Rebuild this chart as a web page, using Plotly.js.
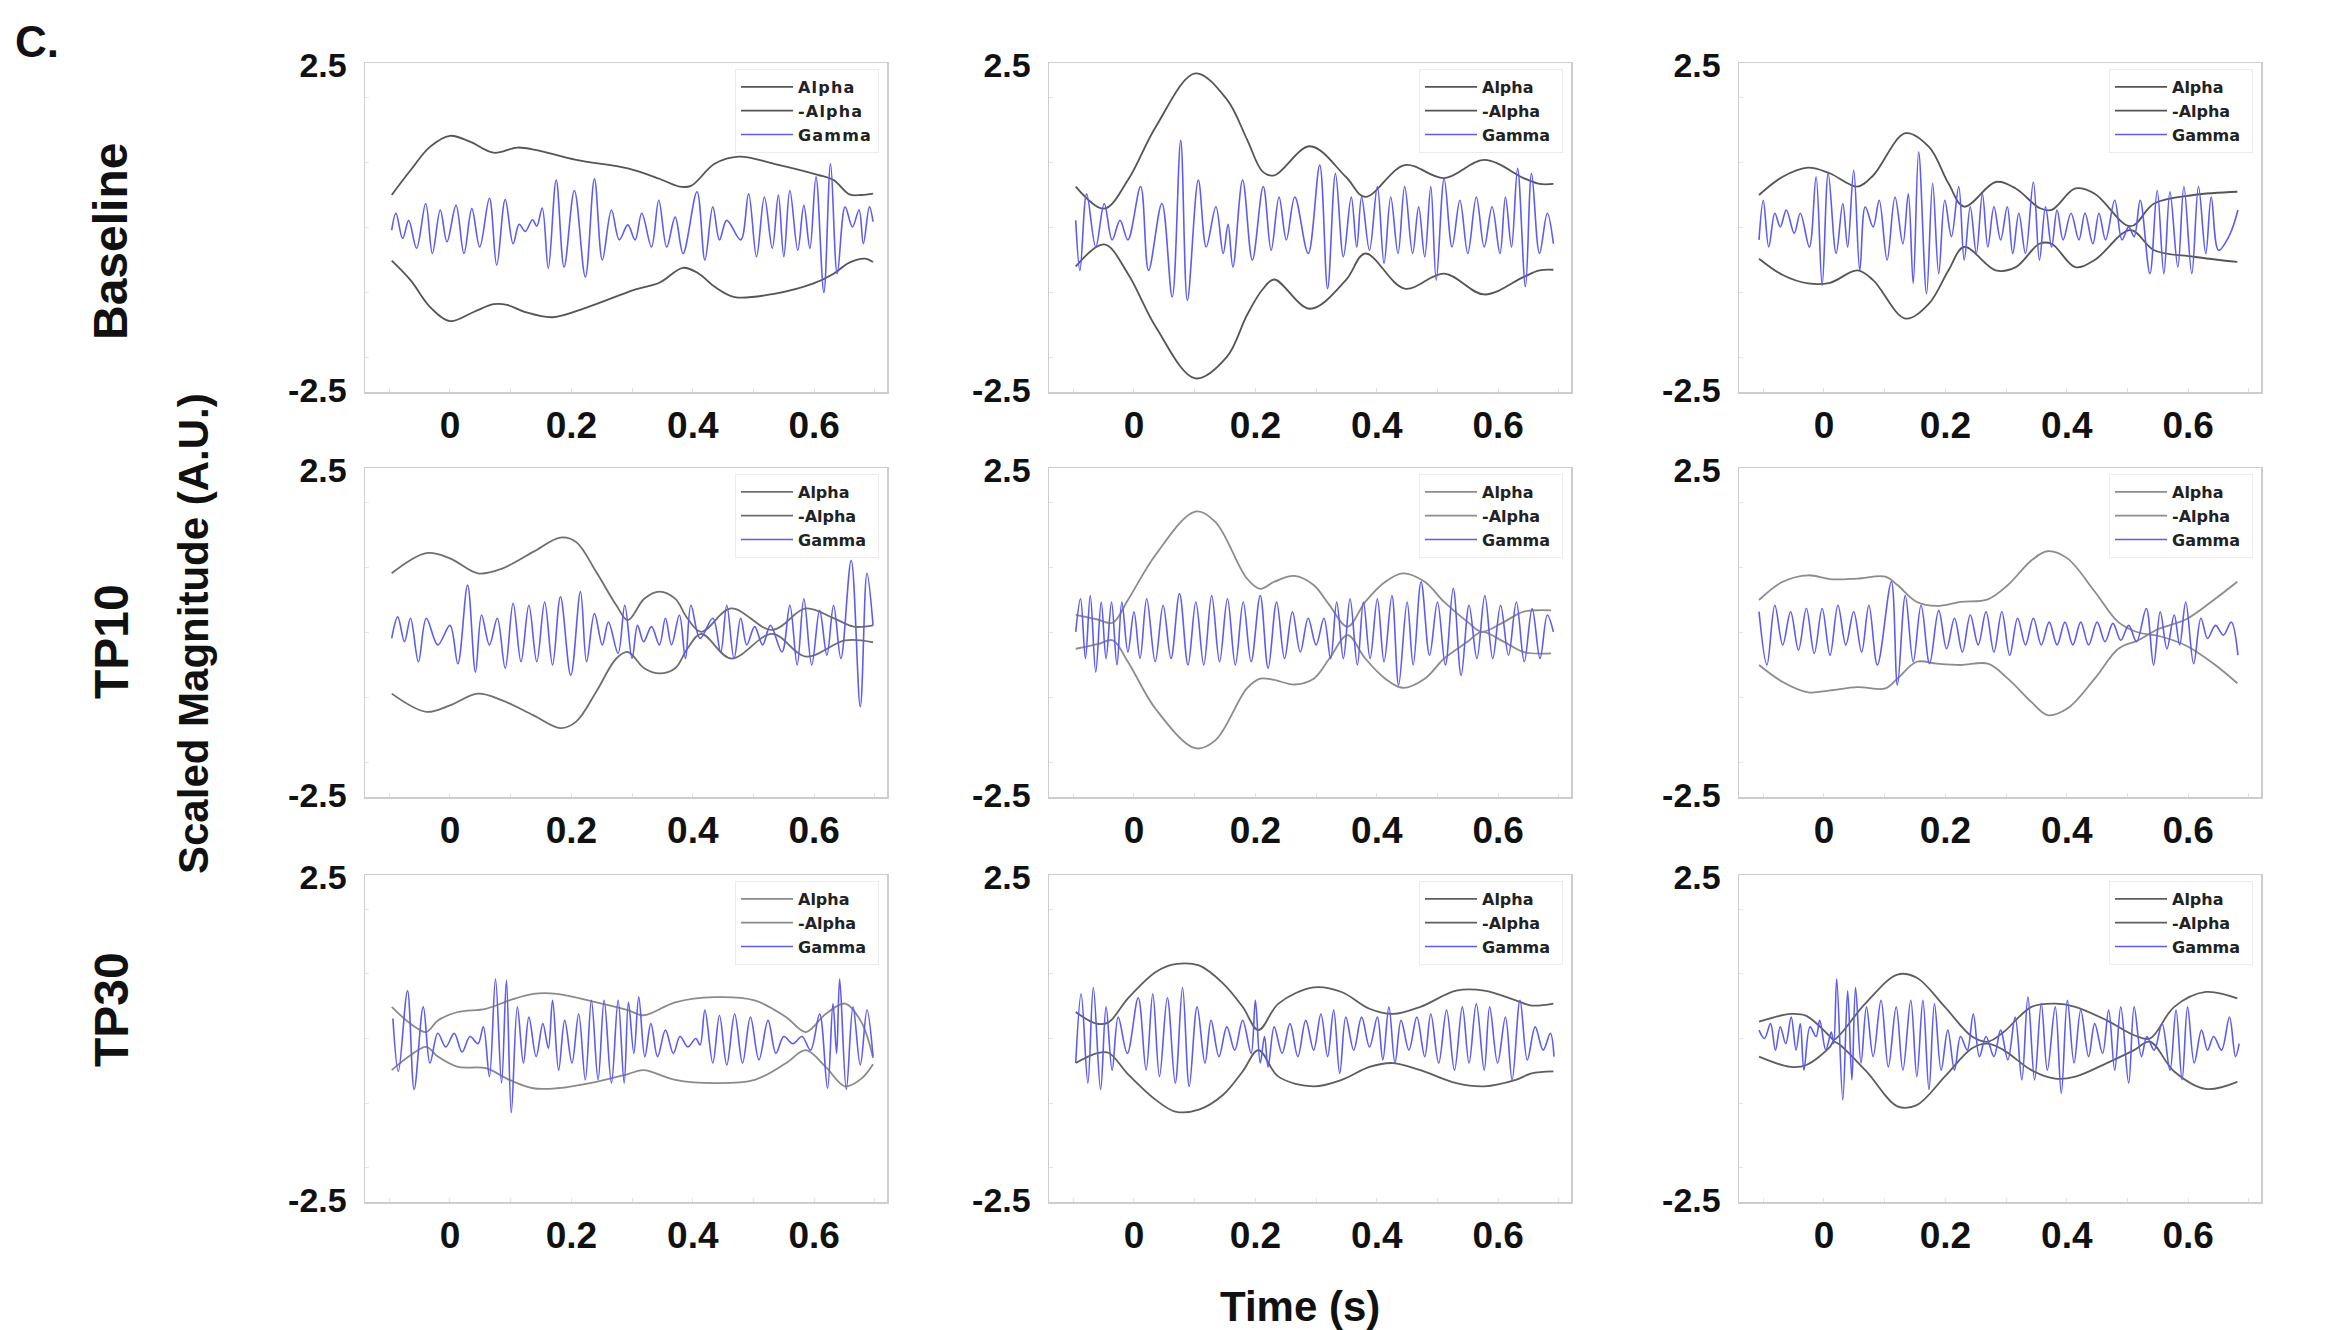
<!DOCTYPE html>
<html>
<head>
<meta charset="utf-8">
<script src="https://cdn.plot.ly/plotly-3.0.1.min.js"></script>
<style>
html,body{margin:0;padding:0;background:#fff;}
#chart{width:2337px;height:1330px;}
.legendtext{letter-spacing:1.2px;}
</style>
</head>
<body>
<div id="chart"></div>
<script>
// ---------------- DATA ----------------
const rowLabels = ['Baseline', 'TP10', 'TP30'];
const xTickVals = [0, 0.2, 0.4, 0.6];
const xTickText = ['0', '0.2', '0.4', '0.6'];
const yTickVals = [-2.5, 2.5];
const yTickText = ['-2.5', '2.5'];
const seriesNames = ['Alpha', '-Alpha', 'Gamma'];

// Panel 1 : Baseline, column 1
const alphaT_1 = [-0.096,-0.065,-0.033,0,0.033,0.072,0.111,0.143,0.208,0.293,0.345,0.378,0.397,0.436,0.476,0.534,0.606,0.632,0.658,0.678,0.697];
const alphaV_1 = [0.50,0.88,1.24,1.41,1.32,1.15,1.23,1.19,1.04,0.91,0.75,0.63,0.64,0.98,1.09,0.98,0.81,0.73,0.51,0.50,0.52];
const negAlphaT_1 = [-0.096,-0.065,-0.033,0,0.039,0.072,0.094,0.124,0.169,0.228,0.306,0.345,0.384,0.410,0.436,0.469,0.534,0.599,0.632,0.658,0.684,0.697];
const negAlphaV_1 = [-0.51,-0.81,-1.22,-1.44,-1.30,-1.18,-1.19,-1.30,-1.38,-1.22,-0.95,-0.85,-0.62,-0.71,-0.91,-1.07,-1.02,-0.86,-0.71,-0.54,-0.48,-0.53];
const gammaT_1 = [-0.096,-0.089,-0.078,-0.068,-0.055,-0.040,-0.029,-0.016,-0.005,0.010,0.023,0.036,0.049,0.065,0.077,0.091,0.104,0.114,0.124,0.136,0.143,0.152,0.162,0.175,0.188,0.205,0.223,0.238,0.251,0.266,0.279,0.293,0.305,0.316,0.332,0.344,0.357,0.371,0.384,0.407,0.420,0.433,0.444,0.456,0.479,0.492,0.505,0.518,0.531,0.541,0.550,0.560,0.573,0.583,0.593,0.603,0.616,0.627,0.638,0.651,0.663,0.674,0.681,0.691,0.697];
const gammaV_1 = [-0.04,0.22,-0.17,0.11,-0.32,0.37,-0.40,0.27,-0.22,0.34,-0.40,0.29,-0.30,0.45,-0.58,0.43,-0.25,0.05,-0.06,0.12,0.02,0.30,-0.63,0.73,-0.61,0.57,-0.76,0.75,-0.50,0.27,-0.19,0.04,-0.19,0.22,-0.30,0.42,-0.30,0.16,-0.40,0.55,-0.50,0.32,-0.19,0.11,-0.19,0.52,-0.45,0.47,-0.32,0.50,-0.45,0.57,-0.35,0.34,-0.32,0.78,-1.00,0.98,-0.71,0.32,0.01,0.27,-0.25,0.32,0.09];

// Panel 2 : Baseline, column 2
const alphaT_2 = [-0.096,-0.049,-0.010,0.036,0.101,0.153,0.186,0.212,0.231,0.290,0.349,0.381,0.446,0.511,0.577,0.642,0.668,0.691];
const alphaV_2 = [0.63,0.29,0.73,1.55,2.37,1.97,1.36,0.86,0.80,1.25,0.78,0.47,0.96,0.76,1.04,0.76,0.67,0.67];
const negAlphaT_2 = alphaT_2;
const negAlphaV_2 = [-0.60,-0.26,-0.71,-1.53,-2.32,-1.99,-1.35,-0.95,-0.80,-1.25,-0.81,-0.40,-0.94,-0.71,-1.03,-0.76,-0.66,-0.65];
const gammaT_2 = [-0.096,-0.089,-0.078,-0.063,-0.049,-0.036,-0.023,-0.010,0.011,0.024,0.046,0.063,0.077,0.088,0.106,0.119,0.135,0.147,0.155,0.163,0.179,0.195,0.213,0.226,0.239,0.251,0.265,0.287,0.306,0.319,0.332,0.345,0.358,0.367,0.375,0.388,0.401,0.412,0.423,0.435,0.446,0.459,0.469,0.479,0.489,0.498,0.511,0.524,0.537,0.550,0.564,0.577,0.590,0.603,0.612,0.622,0.632,0.645,0.655,0.668,0.681,0.691];
const gammaV_2 = [0.11,-0.66,0.52,-0.30,0.37,-0.19,0.11,-0.19,0.63,-0.66,0.37,-1.07,1.34,-1.12,0.73,-0.30,0.32,-0.40,0.05,-0.61,0.73,-0.50,0.63,-0.35,0.47,-0.19,0.47,-0.40,0.96,-0.94,0.83,-0.45,0.47,-0.30,0.47,-0.35,0.63,-0.55,0.47,-0.40,0.63,-0.40,0.32,-0.45,0.63,-0.81,0.75,-0.30,0.42,-0.40,0.47,-0.30,0.32,-0.40,0.47,-0.30,0.91,-0.91,0.83,-0.40,0.22,-0.25];

// Panel 3 : Baseline, column 3
const alphaT_3 = [-0.107,-0.068,-0.026,0.010,0.055,0.081,0.134,0.173,0.205,0.231,0.283,0.316,0.355,0.375,0.414,0.446,0.505,0.544,0.609,0.681];
const alphaV_3 = [0.50,0.78,0.92,0.83,0.63,0.80,1.45,1.24,0.68,0.32,0.70,0.60,0.30,0.27,0.60,0.52,0.02,0.37,0.50,0.55];
const negAlphaT_3 = alphaT_3;
const negAlphaV_3 = [-0.48,-0.73,-0.86,-0.85,-0.66,-0.81,-1.40,-1.17,-0.66,-0.30,-0.66,-0.61,-0.25,-0.25,-0.61,-0.50,-0.04,-0.35,-0.45,-0.53];
const gammaT_3 = [-0.107,-0.100,-0.091,-0.081,-0.072,-0.062,-0.049,-0.039,-0.024,-0.013,-0.003,0.007,0.020,0.031,0.039,0.049,0.059,0.068,0.081,0.091,0.104,0.117,0.130,0.139,0.147,0.156,0.169,0.179,0.189,0.199,0.210,0.222,0.231,0.241,0.251,0.261,0.270,0.280,0.291,0.302,0.311,0.321,0.332,0.345,0.355,0.365,0.375,0.384,0.394,0.407,0.420,0.430,0.443,0.453,0.464,0.479,0.491,0.502,0.511,0.521,0.537,0.549,0.560,0.570,0.583,0.593,0.606,0.617,0.629,0.638,0.650,0.668,0.682];
const gammaV_3 = [-0.19,0.42,-0.30,0.22,0.01,0.27,-0.09,0.22,-0.30,0.78,-0.89,0.83,-0.40,0.37,-0.30,0.88,-0.66,0.32,0.01,0.42,-0.50,0.47,-0.25,0.52,-0.86,1.16,-1.02,0.68,-0.71,0.42,-0.14,0.63,-0.50,0.32,-0.40,0.52,-0.30,0.32,-0.19,0.32,-0.40,0.22,-0.40,0.70,-0.50,0.32,-0.30,0.27,-0.19,0.22,-0.19,0.22,-0.25,0.22,-0.19,0.42,-0.19,0.01,-0.14,0.42,-0.71,0.57,-0.71,0.55,-0.61,0.63,-0.71,0.63,-0.40,0.47,-0.35,-0.12,0.27];

// Panel 4 : TP10, column 1
const alphaT_4 = [-0.096,-0.039,0,0.046,0.085,0.137,0.182,0.208,0.241,0.274,0.293,0.320,0.345,0.371,0.391,0.414,0.463,0.531,0.586,0.632,0.665,0.697];
const alphaV_4 = [0.91,1.22,1.14,0.91,0.98,1.24,1.46,1.39,0.93,0.42,0.19,0.52,0.63,0.52,0.22,0.01,0.37,0.04,0.37,0.22,0.09,0.11];
const negAlphaT_4 = [-0.096,-0.039,0,0.046,0.085,0.137,0.182,0.208,0.241,0.274,0.293,0.320,0.345,0.371,0.391,0.414,0.463,0.531,0.586,0.651,0.697];
const negAlphaV_4 = [-0.94,-1.22,-1.12,-0.94,-1.04,-1.27,-1.47,-1.37,-0.91,-0.40,-0.30,-0.55,-0.63,-0.55,-0.25,-0.02,-0.40,-0.02,-0.37,-0.12,-0.15];
const gammaT_4 = [-0.096,-0.086,-0.075,-0.065,-0.052,-0.039,-0.020,0.000,0.013,0.029,0.042,0.052,0.065,0.078,0.091,0.104,0.117,0.130,0.143,0.156,0.169,0.182,0.199,0.215,0.225,0.238,0.251,0.261,0.277,0.288,0.300,0.309,0.319,0.332,0.345,0.355,0.365,0.378,0.388,0.397,0.412,0.433,0.446,0.456,0.468,0.479,0.489,0.502,0.515,0.528,0.547,0.560,0.572,0.583,0.596,0.609,0.621,0.632,0.644,0.661,0.676,0.687,0.697];
const gammaV_4 = [-0.09,0.24,-0.14,0.22,-0.45,0.22,-0.19,0.11,-0.48,0.73,-0.61,0.27,-0.19,0.22,-0.55,0.45,-0.45,0.42,-0.45,0.47,-0.50,0.55,-0.66,0.63,-0.45,0.29,-0.19,0.16,-0.32,0.42,-0.40,0.11,-0.14,0.09,-0.19,0.22,-0.19,0.27,-0.40,0.42,-0.09,0.22,-0.30,0.42,-0.40,0.22,-0.19,0.09,-0.19,0.11,-0.30,0.42,-0.50,0.52,-0.50,0.34,-0.35,0.42,-0.40,1.11,-1.14,0.91,0.11];

// Panel 5 : TP10, column 2
const alphaT_5 = [-0.096,-0.060,-0.035,-0.010,0.036,0.101,0.134,0.186,0.208,0.231,0.264,0.296,0.322,0.352,0.381,0.414,0.443,0.479,0.511,0.550,0.573,0.609,0.642,0.687];
const alphaV_5 = [0.27,0.20,0.15,0.50,1.20,1.86,1.70,0.83,0.67,0.78,0.87,0.73,0.42,0.09,0.47,0.78,0.91,0.78,0.47,0.16,0.01,0.16,0.32,0.34];
const negAlphaT_5 = alphaT_5;
const negAlphaV_5 = [-0.25,-0.18,-0.12,-0.45,-1.18,-1.78,-1.66,-0.86,-0.71,-0.73,-0.80,-0.71,-0.40,-0.04,-0.40,-0.71,-0.85,-0.71,-0.40,-0.14,0.01,-0.14,-0.30,-0.32];
const gammaT_5 = [-0.096,-0.088,-0.080,-0.072,-0.063,-0.054,-0.046,-0.037,-0.028,-0.020,-0.010,0.000,0.010,0.021,0.035,0.048,0.061,0.075,0.089,0.102,0.115,0.128,0.141,0.154,0.167,0.180,0.193,0.208,0.221,0.235,0.248,0.261,0.274,0.287,0.300,0.313,0.324,0.334,0.345,0.356,0.368,0.378,0.389,0.401,0.412,0.425,0.436,0.450,0.460,0.473,0.487,0.500,0.513,0.526,0.539,0.552,0.565,0.578,0.591,0.604,0.617,0.630,0.643,0.656,0.669,0.681,0.691];
const gammaV_5 = [0.01,0.52,-0.40,0.57,-0.61,0.47,-0.40,0.47,-0.50,0.47,-0.30,0.32,-0.40,0.52,-0.45,0.42,-0.40,0.60,-0.50,0.47,-0.50,0.57,-0.45,0.52,-0.50,0.47,-0.45,0.57,-0.55,0.47,-0.40,0.32,-0.30,0.22,-0.19,0.22,-0.40,0.47,-0.40,0.52,-0.50,0.47,-0.40,0.52,-0.45,0.57,-0.81,0.47,-0.50,0.78,-0.35,0.47,-0.50,0.68,-0.66,0.42,-0.40,0.57,-0.40,0.42,-0.35,0.47,-0.45,0.37,-0.40,0.27,0.01];

// Panel 6 : TP10, column 3
const alphaT_6 = [-0.107,-0.068,-0.026,0.010,0.055,0.101,0.121,0.153,0.186,0.225,0.270,0.303,0.342,0.368,0.401,0.446,0.485,0.518,0.550,0.596,0.642,0.681];
const alphaV_6 = [0.50,0.78,0.88,0.82,0.83,0.86,0.73,0.47,0.41,0.47,0.51,0.73,1.11,1.25,1.14,0.63,0.16,0.00,-0.05,-0.20,-0.48,-0.78];
const negAlphaT_6 = alphaT_6;
const negAlphaV_6 = [-0.50,-0.76,-0.92,-0.89,-0.84,-0.86,-0.71,-0.45,-0.48,-0.50,-0.48,-0.71,-1.07,-1.27,-1.17,-0.71,-0.25,-0.12,0.05,0.20,0.50,0.78];
const gammaT_6 = [-0.107,-0.094,-0.081,-0.068,-0.055,-0.042,-0.029,-0.016,-0.003,0.010,0.023,0.036,0.049,0.062,0.074,0.088,0.111,0.121,0.134,0.147,0.160,0.174,0.189,0.202,0.215,0.228,0.241,0.254,0.267,0.280,0.293,0.306,0.319,0.332,0.345,0.358,0.371,0.384,0.397,0.410,0.423,0.436,0.450,0.463,0.476,0.489,0.502,0.515,0.531,0.543,0.554,0.565,0.577,0.586,0.596,0.609,0.621,0.632,0.645,0.658,0.671,0.682];
const gammaV_6 = [0.32,-0.50,0.42,-0.19,0.32,-0.27,0.37,-0.32,0.37,-0.35,0.42,-0.19,0.32,-0.30,0.42,-0.50,0.78,-0.81,0.57,-0.45,0.42,-0.48,0.34,-0.25,0.22,-0.30,0.27,-0.19,0.32,-0.30,0.32,-0.35,0.22,-0.19,0.22,-0.19,0.16,-0.19,0.16,-0.19,0.16,-0.19,0.16,-0.14,0.14,-0.12,0.11,-0.14,0.37,-0.50,0.32,-0.25,0.27,-0.19,0.47,-0.48,0.22,-0.09,0.11,-0.04,0.16,-0.35];

// Panel 7 : TP30, column 1
const alphaT_7 = [-0.096,-0.065,-0.039,-0.020,0.013,0.059,0.098,0.137,0.176,0.241,0.293,0.319,0.371,0.436,0.502,0.554,0.586,0.619,0.651,0.678,0.697];
const alphaV_7 = [0.49,0.23,0.10,0.28,0.41,0.46,0.59,0.69,0.69,0.56,0.44,0.36,0.56,0.64,0.59,0.33,0.10,0.38,0.54,0.25,-0.30];
const negAlphaT_7 = alphaT_7;
const negAlphaV_7 = [-0.49,-0.26,-0.13,-0.28,-0.44,-0.46,-0.64,-0.77,-0.77,-0.67,-0.55,-0.49,-0.64,-0.69,-0.64,-0.38,-0.18,-0.44,-0.74,-0.62,-0.40];
const gammaT_7 = [-0.094,-0.085,-0.070,-0.059,-0.044,-0.033,-0.020,-0.007,0.007,0.020,0.033,0.046,0.055,0.065,0.075,0.085,0.093,0.101,0.111,0.121,0.130,0.142,0.153,0.162,0.169,0.179,0.189,0.201,0.212,0.223,0.233,0.244,0.254,0.266,0.277,0.287,0.294,0.303,0.311,0.321,0.331,0.342,0.355,0.368,0.379,0.392,0.405,0.412,0.420,0.433,0.444,0.456,0.469,0.482,0.495,0.509,0.524,0.537,0.550,0.565,0.580,0.594,0.609,0.622,0.631,0.637,0.642,0.653,0.664,0.676,0.687,0.697];
const gammaV_7 = [0.31,-0.51,0.74,-0.79,0.49,-0.38,0.08,-0.13,0.08,-0.21,0.03,-0.08,0.18,-0.59,0.92,-0.69,0.90,-1.15,0.49,-0.38,0.33,-0.28,0.23,-0.15,0.59,-0.49,0.28,-0.38,0.38,-0.64,0.59,-0.64,0.59,-0.69,0.59,-0.69,0.56,-0.23,0.64,-0.28,0.23,-0.28,0.13,-0.23,0.03,-0.13,0.00,-0.10,0.44,-0.38,0.36,-0.41,0.38,-0.38,0.33,-0.33,0.28,-0.23,0.03,-0.08,0.03,-0.18,0.38,-0.77,0.54,-0.23,0.92,-0.79,0.49,-0.41,0.44,-0.28];

// Panel 8 : TP30, column 2
const alphaT_8 = [-0.096,-0.062,-0.042,-0.010,0.036,0.068,0.107,0.147,0.179,0.205,0.238,0.296,0.342,0.388,0.427,0.472,0.531,0.577,0.629,0.655,0.691];
const alphaV_8 = [0.41,0.23,0.25,0.62,1.03,1.15,1.13,0.85,0.49,0.13,0.54,0.79,0.72,0.46,0.38,0.49,0.74,0.74,0.59,0.51,0.54];
const negAlphaT_8 = alphaT_8;
const negAlphaV_8 = [-0.38,-0.23,-0.22,-0.55,-0.95,-1.13,-1.10,-0.87,-0.51,-0.18,-0.59,-0.74,-0.64,-0.44,-0.38,-0.49,-0.69,-0.74,-0.64,-0.54,-0.51];
const gammaT_8 = [-0.096,-0.087,-0.076,-0.067,-0.055,-0.046,-0.036,-0.026,-0.011,0.007,0.020,0.031,0.042,0.055,0.068,0.080,0.091,0.104,0.117,0.127,0.140,0.153,0.166,0.179,0.193,0.200,0.208,0.215,0.221,0.231,0.244,0.257,0.270,0.283,0.296,0.308,0.319,0.329,0.339,0.349,0.362,0.375,0.388,0.401,0.410,0.420,0.430,0.440,0.453,0.466,0.479,0.489,0.502,0.515,0.528,0.541,0.552,0.564,0.577,0.586,0.599,0.612,0.623,0.636,0.648,0.661,0.674,0.686,0.692];
const gammaV_8 = [-0.38,0.69,-0.69,0.79,-0.79,0.49,-0.49,0.33,-0.23,0.63,-0.49,0.69,-0.59,0.63,-0.69,0.79,-0.74,0.49,-0.38,0.28,-0.28,0.18,-0.18,0.28,-0.23,0.59,-0.38,0.03,-0.44,0.18,-0.23,0.23,-0.28,0.28,-0.18,0.38,-0.28,0.44,-0.54,0.33,-0.18,0.33,-0.13,0.33,-0.33,0.49,-0.38,0.28,-0.18,0.33,-0.28,0.38,-0.38,0.44,-0.49,0.49,-0.38,0.54,-0.49,0.49,-0.38,0.33,-0.64,0.59,-0.33,0.18,-0.18,0.08,-0.28];

// Panel 9 : TP30, column 3
const alphaT_9 = [-0.107,-0.055,-0.029,0.010,0.016,0.068,0.121,0.153,0.199,0.244,0.270,0.296,0.342,0.381,0.414,0.466,0.511,0.537,0.577,0.629,0.681];
const alphaV_9 = [0.26,0.38,0.35,0.03,-0.02,0.54,0.99,0.94,0.49,0.03,-0.05,0.10,0.49,0.54,0.49,0.28,0.05,0.00,0.49,0.72,0.62];
const negAlphaT_9 = alphaT_9;
const negAlphaV_9 = [-0.28,-0.44,-0.41,-0.13,-0.05,-0.49,-1.05,-1.03,-0.59,-0.15,-0.08,-0.18,-0.49,-0.62,-0.59,-0.38,-0.18,-0.05,-0.51,-0.78,-0.67];
const gammaT_9 = [-0.107,-0.098,-0.088,-0.080,-0.072,-0.063,-0.054,-0.046,-0.039,-0.033,-0.023,-0.013,-0.007,0.003,0.012,0.016,0.021,0.031,0.039,0.046,0.052,0.061,0.070,0.081,0.094,0.106,0.119,0.130,0.143,0.153,0.163,0.173,0.182,0.193,0.204,0.215,0.225,0.236,0.246,0.256,0.267,0.280,0.291,0.303,0.315,0.326,0.336,0.347,0.358,0.368,0.381,0.391,0.401,0.412,0.423,0.436,0.446,0.459,0.469,0.479,0.489,0.502,0.511,0.523,0.532,0.544,0.557,0.570,0.580,0.590,0.599,0.610,0.622,0.632,0.642,0.655,0.668,0.678,0.684];
const gammaV_9 = [0.13,0.00,0.23,-0.18,0.18,-0.08,0.33,-0.18,0.23,-0.49,0.18,0.03,0.28,-0.18,0.10,-0.08,0.92,-0.95,0.74,-0.64,0.79,-0.38,0.49,-0.28,0.59,-0.44,0.49,-0.49,0.59,-0.59,0.59,-0.79,0.54,-0.49,0.13,-0.49,0.03,-0.18,0.38,-0.28,0.03,-0.28,0.13,-0.33,0.33,-0.64,0.64,-0.64,0.54,-0.49,0.49,-0.85,0.59,-0.38,0.44,-0.28,0.23,-0.23,0.44,-0.49,0.49,-0.69,0.49,-0.28,0.03,-0.18,0.23,-0.49,0.44,-0.64,0.49,-0.38,0.13,-0.18,0.03,-0.18,0.33,-0.28,-0.08];

// ---------------- LAYOUT / STYLE ----------------
const W = 2337, H = 1330;
const FONT = '"Liberation Sans", Arial, Helvetica, sans-serif';
const colPx = [[365, 887], [1049, 1571], [1739, 2261]];
const rowPx = [[63, 392], [468, 797], [875, 1202]];
const xRange = [-0.14, 0.72];
const yRange = [-2.53, 2.53];
const alphaColors = ['#555555', '#555555', '#555555', '#6e6e6e', '#8c8c8c', '#8c8c8c', '#8a8a8a', '#5e5e5e', '#5e5e5e'];
const gammaColor = '#5c5cf0';

const panels = [
  [alphaT_1, alphaV_1, negAlphaT_1, negAlphaV_1, gammaT_1, gammaV_1],
  [alphaT_2, alphaV_2, negAlphaT_2, negAlphaV_2, gammaT_2, gammaV_2],
  [alphaT_3, alphaV_3, negAlphaT_3, negAlphaV_3, gammaT_3, gammaV_3],
  [alphaT_4, alphaV_4, negAlphaT_4, negAlphaV_4, gammaT_4, gammaV_4],
  [alphaT_5, alphaV_5, negAlphaT_5, negAlphaV_5, gammaT_5, gammaV_5],
  [alphaT_6, alphaV_6, negAlphaT_6, negAlphaV_6, gammaT_6, gammaV_6],
  [alphaT_7, alphaV_7, negAlphaT_7, negAlphaV_7, gammaT_7, gammaV_7],
  [alphaT_8, alphaV_8, negAlphaT_8, negAlphaV_8, gammaT_8, gammaV_8],
  [alphaT_9, alphaV_9, negAlphaT_9, negAlphaV_9, gammaT_9, gammaV_9]
];

const traces = [];
const layout = {
  width: W, height: H,
  margin: {l: 0, r: 0, t: 0, b: 0},
  paper_bgcolor: '#ffffff',
  plot_bgcolor: '#ffffff',
  showlegend: true,
  font: {family: FONT, color: '#111'},
  annotations: []
};

panels.forEach((p, i) => {
  const r = Math.floor(i / 3), c = i % 3;
  const s = i === 0 ? '' : String(i + 1);
  const xa = 'x' + s, ya = 'y' + s, lg = 'legend' + s;
  const common = {xaxis: xa, yaxis: ya, mode: 'lines', legend: lg, hoverinfo: 'skip'};
  const ac = alphaColors[i];
  traces.push(Object.assign({x: p[0], y: p[1], name: seriesNames[0],
    line: {color: ac, width: 1.8, shape: 'spline', smoothing: 1}}, common));
  traces.push(Object.assign({x: p[2], y: p[3], name: seriesNames[1],
    line: {color: ac, width: 1.8, shape: 'spline', smoothing: 1}}, common));
  traces.push(Object.assign({x: p[4], y: p[5], name: seriesNames[2],
    line: {color: gammaColor, width: 1.6, shape: 'spline', smoothing: 1}}, common));

  layout['xaxis' + s] = {
    domain: [colPx[c][0] / W, colPx[c][1] / W],
    anchor: ya, range: xRange, fixedrange: true,
    tickmode: 'array', tickvals: xTickVals, ticktext: xTickText,
    ticks: '',
    minor: {tickmode: 'linear', tick0: 0, dtick: 0.1, ticks: 'inside', ticklen: 4, tickcolor: '#e2e2e2', tickwidth: 1},
    showline: true, mirror: true, linecolor: '#cdcdcd', linewidth: 1.5,
    showgrid: false, zeroline: false,
    ticklabelstandoff: 0,
    tickfont: {family: FONT, size: 37, weight: 'bold', color: '#111'}
  };
  layout['yaxis' + s] = {
    domain: [1 - rowPx[r][1] / H, 1 - rowPx[r][0] / H],
    anchor: xa, range: yRange, fixedrange: true,
    tickmode: 'array', tickvals: yTickVals, ticktext: yTickText,
    ticks: '',
    minor: {tickvals: [-2, -1, 0, 1, 2], ticks: 'inside', ticklen: 4, tickcolor: '#e6e6e6', tickwidth: 1},
    showline: true, mirror: true, linecolor: '#cdcdcd', linewidth: 1.5,
    showgrid: false, zeroline: false,
    ticklabelstandoff: 10,
    tickfont: {family: FONT, size: 34, weight: 'bold', color: '#111'}
  };
  layout[lg] = {
    x: (colPx[c][1] - 8) / W, xanchor: 'right',
    y: 1 - (rowPx[r][0] + 6) / H, yanchor: 'top',
    bgcolor: '#ffffff', bordercolor: '#ececec', borderwidth: 1,
    font: {family: '"DejaVu Sans", sans-serif', size: 16, weight: 'bold', color: '#222'},
    tracegroupgap: 0, itemwidth: 52, traceorder: 'normal'
  };
});

// text labels
const ann = layout.annotations;
ann.push({text: 'C.', x: 37 / W, y: 1 - 42 / H, xref: 'paper', yref: 'paper', showarrow: false,
  xanchor: 'center', yanchor: 'middle', font: {family: FONT, size: 44, weight: 'bold', color: '#111'}});
const rowLabelY = [242, 642, 1010];
rowLabels.forEach((t, k) => {
  ann.push({text: t, x: 111 / W, y: 1 - rowLabelY[k] / H, xref: 'paper', yref: 'paper', showarrow: false,
    textangle: -90, xanchor: 'center', yanchor: 'middle',
    font: {family: FONT, size: 48, weight: 'bold', color: '#111'}});
});
ann.push({text: 'Scaled Magnitude (A.U.)', x: 193 / W, y: 1 - 634 / H, xref: 'paper', yref: 'paper',
  showarrow: false, textangle: -90, xanchor: 'center', yanchor: 'middle',
  font: {family: FONT, size: 42, weight: 'bold', color: '#111'}});
ann.push({text: 'Time (s)', x: 1300 / W, y: 1 - 1306 / H, xref: 'paper', yref: 'paper',
  showarrow: false, xanchor: 'center', yanchor: 'middle',
  font: {family: FONT, size: 42, weight: 'bold', color: '#111'}});

Plotly.newPlot('chart', traces, layout, {displayModeBar: false, staticPlot: true});
</script>
</body>
</html>
